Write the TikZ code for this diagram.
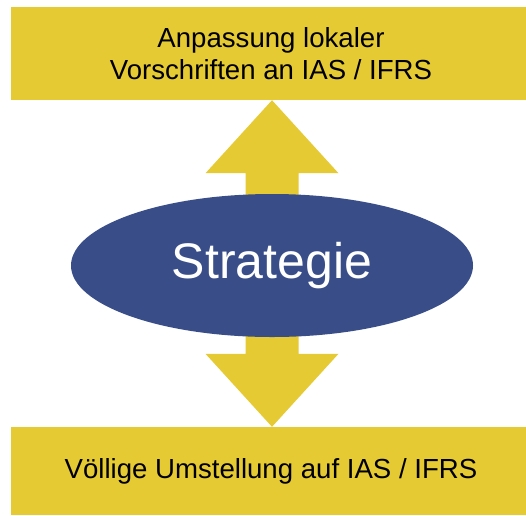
\documentclass[tikz,border=0pt]{standalone}
\usepackage{fontspec}
\setmainfont{Liberation Sans}
\usetikzlibrary{positioning}
\usetikzlibrary{calc}
\usetikzlibrary{shapes,backgrounds}
\usepackage{xcolor}
\definecolor{gold}{HTML}{E5CA33}
\definecolor{navy}{HTML}{394E89}
\tikzset{
	box/.style = {rectangle, fill=gold, inner sep=0pt, minimum width=520pt, align=center,
		font=\fontsize{27.6}{32}\selectfont},
	state/.style = {ellipse, fill=navy, text=white, inner sep=0pt, minimum width=402pt,
		minimum height=143pt, font=\fontsize{50}{55}\selectfont},
	blockarrow/.style = {fill=gold}
}

\begin{document}
\begin{tikzpicture}[x=1pt, y=-1pt]
				\useasboundingbox (0,0) rectangle (526,515);
				
				\node[box, minimum height=93pt] (top) at (271, 53.5) {Anpassung lokaler\\Vorschriften an IAS / IFRS};
				\node[box, minimum height=88pt] (bottom) at (271, 471) {Völlige Umstellung auf IAS / IFRS};
				\node[state] (strat) at (272, 265.5) {Strategie};
				
				\coordinate (uptip) at (strat.center |- top.south);
				\coordinate (downtip) at (strat.center |- bottom.north);
				
				\begin{pgfonlayer}{background}
				\fill[blockarrow] ([xshift=-26.5pt]strat.center) -- ([xshift=-26.5pt, yshift=-73pt]uptip)
					-- ([xshift=-66.5pt, yshift=-73pt]uptip) -- (uptip) -- ([xshift=66.5pt, yshift=-73pt]uptip)
					-- ([xshift=26.5pt, yshift=-73pt]uptip) -- ([xshift=26.5pt]strat.center) -- cycle;
				\fill[blockarrow] ([xshift=-26.5pt]strat.center) -- ([xshift=-26.5pt, yshift=73pt]downtip)
					-- ([xshift=-66.5pt, yshift=73pt]downtip) -- (downtip) -- ([xshift=66.5pt, yshift=73pt]downtip)
					-- ([xshift=26.5pt, yshift=73pt]downtip) -- ([xshift=26.5pt]strat.center) -- cycle;
				\end{pgfonlayer}
				
			\end{tikzpicture}
\end{document}
